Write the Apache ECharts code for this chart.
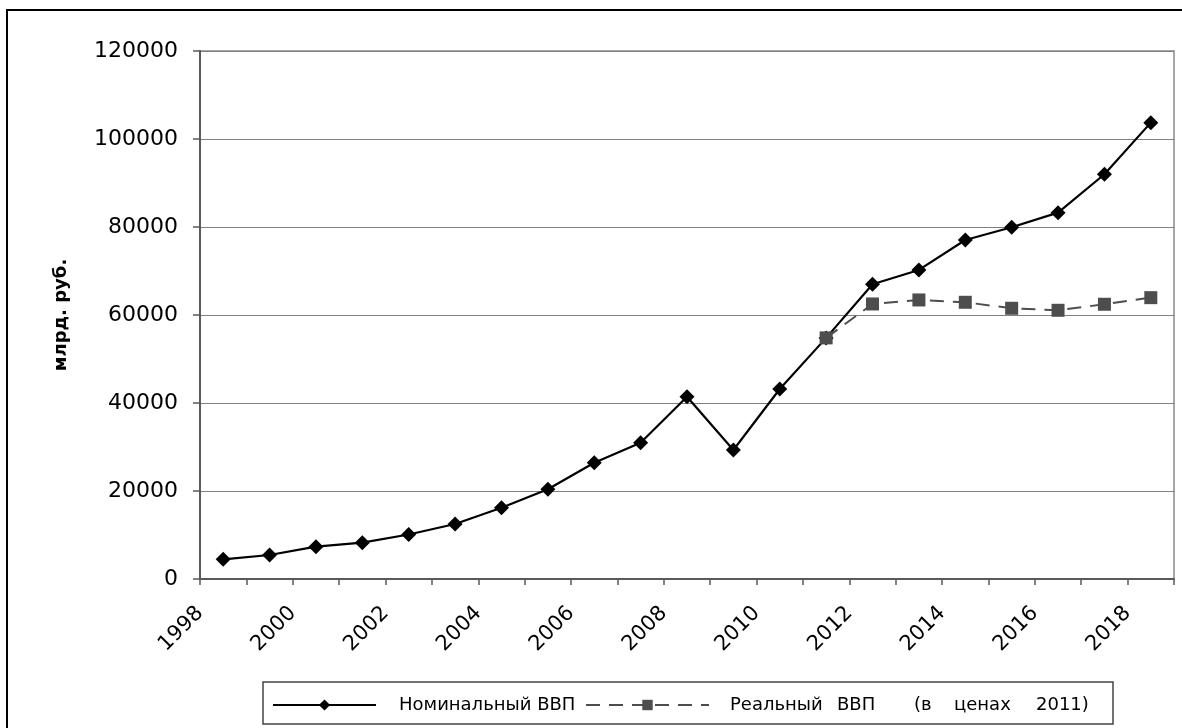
<!DOCTYPE html>
<html>
<head>
<meta charset="utf-8">
<script src="https://cdn.jsdelivr.net/npm/echarts@6/dist/echarts.min.js"></script>
<style>
  html, body { margin: 0; padding: 0; background: #fff; }
  #chart { width: 1182px; height: 728px; }
</style>
</head>
<body>
<div id="chart"></div>
<script>
// Годы (категории оси X)
const years = ['1998', '1999', '2000', '2001', '2002', '2003', '2004', '2005', '2006', '2007',
  '2008', '2009', '2010', '2011', '2012', '2013', '2014', '2015', '2016', '2017', '2018'];

// Подписи на делениях оси X (на границах категорий, через одну)
const yearTickLabels = ['1998', '', '2000', '', '2002', '', '2004', '', '2006', '', '2008', '',
  '2010', '', '2012', '', '2014', '', '2016', '', '2018', ''];

// Номинальный ВВП, млрд. руб.
const nominalGdp = [4480, 5460, 7340, 8250, 10120, 12500, 16200, 20390, 26430, 30980,
  41440, 29320, 43190, 54800, 66990, 70240, 77050, 79940, 83260, 91990, 103720];

// Реальный ВВП в ценах 2011 г., млрд. руб.
const realGdp = [null, null, null, null, null, null, null, null, null, null,
  null, null, null, 54800, 62510, 63420, 62890, 61530, 61070, 62440, 63940];

// Шкала оси Y
const yMin = 0;
const yMax = 120000;
const yStep = 20000;

const seriesNames = ['Номинальный ВВП', 'Реальный ВВП (в ценах 2011)'];
const yAxisTitle = 'млрд. руб.';

const FONT = 'DejaVu Sans';

const chart = echarts.init(document.getElementById('chart'), null, { renderer: 'canvas' });

// Разбивка подписи второй серии на слова с шириной ячеек
const wordBoxes = [107, 77, 40, 82, 0];
function spreadWords(name) {
  return name.split(' ').map((w, i) => '{w' + i + '|' + w + '}').join('');
}
const wordRich = {};
wordBoxes.forEach((wd, i) => {
  wordRich['w' + i] = wd ? { width: wd, fontFamily: FONT, fontSize: 18, color: '#000' }
                         : { fontFamily: FONT, fontSize: 18, color: '#000' };
});

chart.setOption({
  backgroundColor: '#fff',
  animation: false,
  grid: {
    left: 200, right: 8, top: 51, bottom: 149,
    show: true, borderColor: '#8a8a8a', borderWidth: 1.5, backgroundColor: 'transparent'
  },
  xAxis: [
    {
      type: 'category',
      data: years,
      boundaryGap: true,
      axisLine: { show: true, lineStyle: { color: '#5a5a5a', width: 2 } },
      axisTick: { show: true, length: 6, lineStyle: { color: '#5a5a5a', width: 1.5 } },
      axisLabel: { show: false },
      splitLine: { show: false }
    },
    {
      type: 'category',
      data: yearTickLabels,
      boundaryGap: false,
      position: 'bottom',
      axisLine: { show: false },
      axisTick: { show: false },
      splitLine: { show: false },
      axisLabel: {
        interval: 0, rotate: 45, margin: 31,
        fontFamily: FONT, fontSize: 21, color: '#000'
      }
    }
  ],
  yAxis: {
    type: 'value',
    min: yMin, max: yMax, interval: yStep,
    name: yAxisTitle,
    nameLocation: 'middle',
    nameRotate: 90,
    nameGap: 130,
    nameTextStyle: { fontFamily: FONT, fontSize: 18, fontWeight: 'bold', color: '#000' },
    axisLine: { show: true, lineStyle: { color: '#5a5a5a', width: 2 } },
    axisTick: { show: true, length: 7, lineStyle: { color: '#5a5a5a', width: 1.5 } },
    axisLabel: {
      margin: 22, fontFamily: FONT, fontSize: 22, color: '#000',
      formatter: v => String(v)
    },
    splitLine: { show: true, lineStyle: { color: '#808080', width: 1.2 } }
  },
  legend: [
    {
      data: [seriesNames[0]],
      left: 272, top: 696,
      padding: 0,
      itemWidth: 103, itemHeight: 14,
      textStyle: { fontFamily: FONT, fontSize: 18, color: '#000', rich: { g: { width: 18 } } },
      formatter: n => '{g|}' + n
    },
    {
      data: [seriesNames[1]],
      left: 585, top: 696,
      padding: 0,
      itemWidth: 123, itemHeight: 13,
      textStyle: {
        fontFamily: FONT, fontSize: 18, color: '#000',
        rich: Object.assign({ g: { width: 16 } }, wordRich)
      },
      formatter: n => '{g|}' + spreadWords(n)
    }
  ],
  series: [
    {
      name: seriesNames[0],
      type: 'line',
      data: nominalGdp,
      symbol: 'diamond',
      symbolSize: [15, 15],
      itemStyle: { color: '#000' },
      lineStyle: { color: '#000', width: 2.2 },
      z: 3
    },
    {
      name: seriesNames[1],
      type: 'line',
      data: realGdp,
      symbol: 'rect',
      symbolSize: 13,
      itemStyle: { color: '#4d4d4d' },
      lineStyle: { color: '#4d4d4d', width: 2, type: [14, 9] },
      z: 4
    }
  ],
  graphic: [
    {
      type: 'rect',
      shape: { x: 7, y: 10, width: 1400, height: 1000 },
      style: { fill: 'none', stroke: '#000', lineWidth: 2 },
      silent: true
    },
    {
      type: 'rect',
      shape: { x: 263, y: 682, width: 850, height: 42 },
      style: { fill: 'none', stroke: '#444', lineWidth: 1.5 },
      silent: true
    }
  ]
});
</script>
</body>
</html>
